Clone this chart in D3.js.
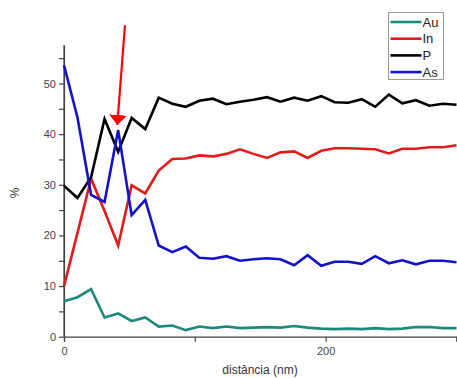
<!DOCTYPE html>
<html>
<head>
<meta charset="utf-8">
<script src="https://cdn.jsdelivr.net/npm/d3@7"></script>
<style>
  body { margin: 0; background: #fff; }
  svg { display: block; font-family: "Liberation Sans", Arial, sans-serif; }
</style>
</head>
<body>
<div id="chart-container"></div>
<script>
var svgWidth = 457;
var svgHeight = 378;

// distância (nm)
var distancia = [0, 10.3, 20.7, 31.0, 41.4, 51.7, 62.1, 72.4, 82.8, 93.1,
    103.4, 113.8, 124.1, 134.5, 144.8, 155.2, 165.5, 175.9, 186.2, 196.6,
    206.9, 217.2, 227.6, 237.9, 248.3, 258.6, 269.0, 279.3, 289.7, 300];

var au = [7.0, 7.8, 9.4, 3.8, 4.6, 3.1, 3.8, 2.0, 2.2, 1.3,
    2.0, 1.7, 2.0, 1.7, 1.8, 1.9, 1.8, 2.1, 1.8, 1.6,
    1.5, 1.6, 1.5, 1.7, 1.5, 1.6, 1.9, 1.9, 1.7, 1.7];

var inn = [10.0, 20.5, 31.2, 24.8, 18.0, 29.9, 28.3, 32.8, 35.1, 35.2,
    35.8, 35.6, 36.1, 37.0, 36.1, 35.3, 36.4, 36.6, 35.3, 36.7,
    37.2, 37.2, 37.1, 37.0, 36.2, 37.1, 37.1, 37.4, 37.4, 37.8];

var p = [29.8, 27.4, 31.5, 43.0, 36.5, 43.2, 41.0, 47.2, 46.0, 45.4,
    46.6, 47.0, 45.9, 46.4, 46.8, 47.3, 46.4, 47.2, 46.6, 47.5,
    46.3, 46.2, 46.9, 45.4, 47.8, 46.1, 46.7, 45.6, 46.0, 45.8];

var as = [53.6, 43.3, 28.0, 26.6, 40.8, 24.0, 27.0, 18.0, 16.7, 17.8,
    15.6, 15.4, 15.9, 15.0, 15.3, 15.5, 15.3, 14.1, 16.1, 14.0,
    14.8, 14.8, 14.4, 15.9, 14.5, 15.1, 14.3, 15.0, 15.0, 14.7];

var seriesNames = ["Au", "In", "P", "As"];
var seriesColors = ["#1b8a7c", "#e01b1b", "#000000", "#1212cc"];
var seriesValues = [au, inn, p, as];

var yMajor = [0, 10, 20, 30, 40, 50];
var yMinor = [5, 15, 25, 35, 45, 55];
var xTicks = [0, 100, 200, 300];
var xLabels = [0, 200];

// arrow annotation, in data units: start and tip
var arrowFrom = [46.6, 61.5];
var arrowTo = [40.7, 41.8];

var svg = d3.select("#chart-container").append("svg")
    .attr("width", svgWidth)
    .attr("height", svgHeight);

var xScale = d3.scaleLinear().domain([0, 300]).range([64, 456.5]);
var yScale = d3.scaleLinear().domain([0, 57.6]).range([336.7, 45]);

var axisColor = "#444";

// x axis
var xAxis = svg.append("g")
    .attr("transform", "translate(0," + yScale(0) + ")")
    .call(d3.axisBottom(xScale).tickValues(xTicks).tickSize(5)
        .tickFormat(d => xLabels.indexOf(d) >= 0 ? d : ""));
xAxis.select(".domain").attr("stroke", axisColor).attr("stroke-width", 1.2);
xAxis.selectAll(".tick line").attr("stroke", axisColor).attr("stroke-width", 1.2);
xAxis.selectAll(".tick text").attr("fill", "#444").style("font-size", "11px").attr("dy", "0.9em");

// y axis
var yAxis = svg.append("g")
    .attr("transform", "translate(" + xScale(0) + ",0)")
    .call(d3.axisLeft(yScale).tickValues(yMajor).tickSize(5).tickSizeOuter(0));
yAxis.select(".domain").attr("stroke", axisColor).attr("stroke-width", 1.2);
yAxis.selectAll(".tick line").attr("stroke", axisColor).attr("stroke-width", 1.2);
yAxis.selectAll(".tick text").attr("fill", "#444").style("font-size", "11px");

svg.append("g")
    .attr("transform", "translate(" + xScale(0) + ",0)")
    .call(d3.axisLeft(yScale).tickValues(yMinor).tickSize(5).tickFormat(""))
    .call(g => g.select(".domain").remove())
    .selectAll(".tick line").attr("stroke", axisColor).attr("stroke-width", 1.2);

// extend y axis line to the top
svg.append("line")
    .attr("x1", xScale(0)).attr("x2", xScale(0))
    .attr("y1", yScale(0)).attr("y2", yScale(57.6))
    .attr("stroke", axisColor).attr("stroke-width", 1.2);

svg.append("text")
    .attr("transform", "translate(19," + 193 + ") rotate(-90)")
    .style("text-anchor", "middle")
    .style("font-size", "12px")
    .attr("fill", "#333")
    .text("%");

svg.append("text")
    .attr("x", 260)
    .attr("y", 374)
    .style("text-anchor", "middle")
    .style("font-size", "12px")
    .attr("fill", "#333")
    .text("distância (nm)");

// lines
var line = d3.line()
    .x((d, i) => xScale(distancia[i]))
    .y(d => yScale(d));

seriesValues.forEach(function (vals, k) {
    svg.append("path")
        .datum(vals)
        .attr("fill", "none")
        .attr("stroke", seriesColors[k])
        .attr("stroke-width", 2.6)
        .attr("stroke-linejoin", "miter")
        .attr("d", line);
});

// red arrow
svg.append("defs").append("marker")
    .attr("id", "head")
    .attr("viewBox", "0 0 10 10")
    .attr("refX", 10).attr("refY", 5)
    .attr("markerWidth", 10).attr("markerHeight", 18)
    .attr("markerUnits", "userSpaceOnUse")
    .attr("preserveAspectRatio", "none")
    .attr("orient", "auto")
    .append("path")
    .attr("d", "M0,0 L10,5 L0,10 Z")
    .attr("fill", "#ff0000");

svg.append("line")
    .attr("x1", xScale(arrowFrom[0])).attr("y1", yScale(arrowFrom[1]))
    .attr("x2", xScale(arrowTo[0])).attr("y2", yScale(arrowTo[1]))
    .attr("stroke", "#ff0000")
    .attr("stroke-width", 2.2)
    .attr("marker-end", "url(#head)");

// legend
var legend = svg.append("g").attr("transform", "translate(388.5,12.5)");
legend.append("rect")
    .attr("width", 55).attr("height", 67)
    .attr("fill", "#fff")
    .attr("stroke", "#999")
    .attr("stroke-width", 1);

seriesNames.forEach(function (name, k) {
    var yy = 9.5 + k * 16.7;
    legend.append("line")
        .attr("x1", 2).attr("x2", 33)
        .attr("y1", yy).attr("y2", yy)
        .attr("stroke", seriesColors[k])
        .attr("stroke-width", 2.6);
    legend.append("text")
        .attr("x", 34).attr("y", yy + 4.5)
        .style("font-size", "13px")
        .attr("fill", "#222")
        .text(name);
});
</script>
</body>
</html>
